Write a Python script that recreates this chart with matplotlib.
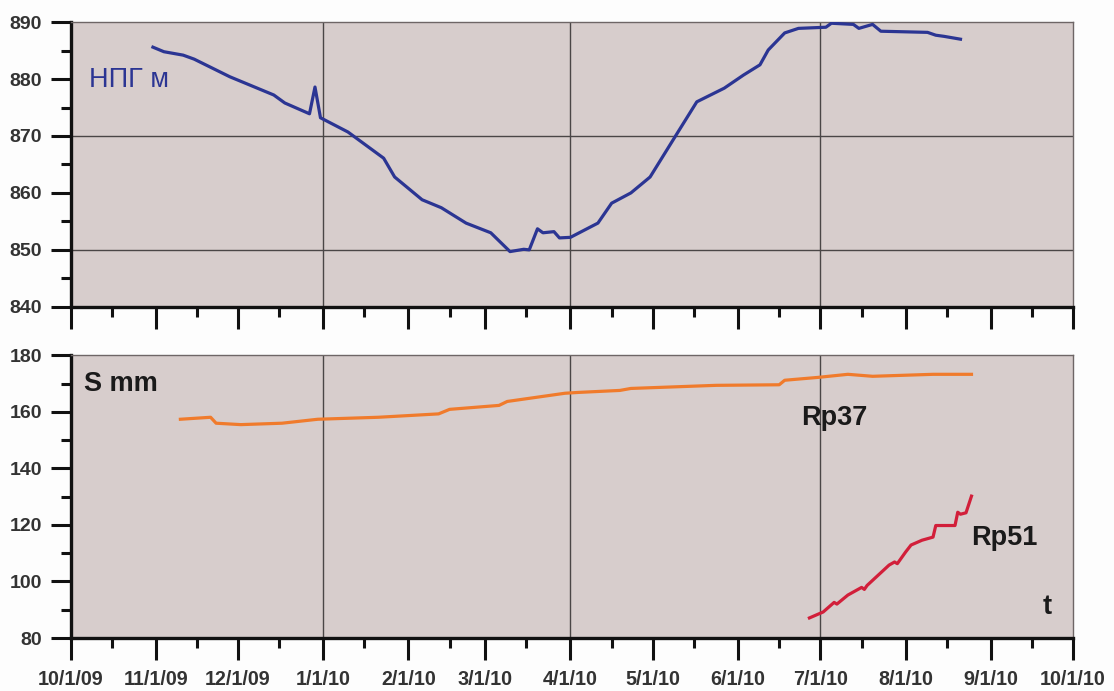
import matplotlib
matplotlib.use("Agg")
import matplotlib.pyplot as plt
import matplotlib.dates as mdates
import pandas as pd

plt.rcParams['font.family'] = ['Liberation Sans', 'DejaVu Sans']

# Groundwater level (НПГ, m)
level_dates = ["2009-10-31", "2009-11-04", "2009-11-11", "2009-11-15", "2009-11-28",
               "2009-12-14", "2009-12-18", "2009-12-27", "2009-12-29", "2009-12-31",
               "2010-01-10", "2010-01-23", "2010-01-27", "2010-02-06", "2010-02-13",
               "2010-02-22", "2010-03-03", "2010-03-10", "2010-03-15", "2010-03-17",
               "2010-03-20", "2010-03-22", "2010-03-26", "2010-03-28", "2010-04-01",
               "2010-04-11", "2010-04-16", "2010-04-23", "2010-04-30", "2010-05-09",
               "2010-05-17", "2010-05-27", "2010-06-03", "2010-06-09", "2010-06-12",
               "2010-06-18", "2010-06-23", "2010-07-03", "2010-07-05", "2010-07-13",
               "2010-07-15", "2010-07-20", "2010-07-23", "2010-08-09", "2010-08-12",
               "2010-08-15", "2010-08-21"]
level_vals = [885.6, 884.8, 884.2, 883.5, 880.4,
              877.2, 875.8, 873.9, 878.6, 873.2,
              870.7, 866.1, 862.8, 858.8, 857.4,
              854.7, 853.0, 849.7, 850.1, 850.0,
              853.7, 853.0, 853.2, 852.1, 852.2,
              854.7, 858.2, 860.0, 862.8, 869.8,
              876.0, 878.4, 880.7, 882.5, 885.1,
              888.1, 888.9, 889.1, 889.8, 889.6,
              888.9, 889.6, 888.4, 888.2, 887.7,
              887.5, 887.0]

# Settlement at benchmark Rp37 (mm)
rp37_dates = ["2009-11-10", "2009-11-21", "2009-11-23", "2009-12-02", "2009-12-17",
              "2009-12-30", "2010-01-21", "2010-02-12", "2010-02-16", "2010-03-06",
              "2010-03-09", "2010-03-30", "2010-04-04", "2010-04-19", "2010-04-23",
              "2010-05-24", "2010-06-16", "2010-06-18", "2010-06-30", "2010-07-11",
              "2010-07-20", "2010-08-11", "2010-08-25"]
rp37_vals = [157.4, 158.1, 156.0, 155.5, 156.0,
             157.4, 158.1, 159.3, 160.9, 162.3,
             163.7, 166.6, 166.9, 167.6, 168.3,
             169.4, 169.6, 171.2, 172.2, 173.3,
             172.6, 173.3, 173.3]

# Settlement at benchmark Rp51 (mm)
rp51_dates = ["2010-06-27", "2010-07-02", "2010-07-06", "2010-07-07", "2010-07-11",
              "2010-07-16", "2010-07-17", "2010-07-18", "2010-07-26", "2010-07-28",
              "2010-07-29", "2010-08-01", "2010-08-03", "2010-08-07", "2010-08-11",
              "2010-08-12", "2010-08-19", "2010-08-20", "2010-08-21", "2010-08-23",
              "2010-08-25"]
rp51_vals = [87.1, 89.2, 92.6, 92.0, 95.2,
             97.9, 97.2, 98.6, 105.8, 106.9,
             106.3, 110.4, 112.9, 114.6, 115.7,
             119.8, 119.8, 124.5, 123.8, 124.3,
             130.2]

x_start, x_end = pd.Timestamp("2009-10-01"), pd.Timestamp("2010-10-01")
grid_dates = ["2010-01-01", "2010-04-01", "2010-07-01"]

bg = "#d7cdcc"
blue = "#2b3593"
orange = "#f07b2c"
red = "#d21f3a"
tick_col = "#333333"
ink = "#1a1a1a"

fig = plt.figure(figsize=(11.14, 6.91), dpi=100, facecolor="#fdfdfd")
ax1 = fig.add_axes([0.0633, 0.556, 0.900, 0.412])
ax2 = fig.add_axes([0.0633, 0.0767, 0.900, 0.409])


def month_label(v, pos):
    d = mdates.num2date(v)
    return f"{d.month}/1/{d.year % 100:02d}"


def style(ax, ymin, ymax, major, minor, hgrid):
    ax.set_facecolor(bg)
    ax.set_xlim(x_start, x_end)
    ax.set_ylim(ymin, ymax)
    ax.xaxis.set_major_locator(mdates.MonthLocator())
    ax.xaxis.set_minor_locator(mdates.MonthLocator(bymonthday=16))
    ax.xaxis.set_major_formatter(plt.FuncFormatter(month_label))
    ax.yaxis.set_major_locator(plt.MultipleLocator(major))
    ax.yaxis.set_minor_locator(plt.MultipleLocator(minor))
    ax.tick_params(axis="x", which="major", length=16, width=2.2, color="#111111",
                   labelsize=14.2, labelcolor=tick_col, pad=7)
    ax.tick_params(axis="x", which="minor", length=7.5, width=2.2, color="#111111")
    ax.tick_params(axis="y", which="major", length=14.5, width=2.2, color="#111111",
                   labelsize=14, labelcolor=tick_col, pad=6)
    ax.tick_params(axis="y", which="minor", length=7, width=2.2, color="#111111")
    for lab in ax.get_xticklabels() + ax.get_yticklabels():
        lab.set_fontweight("bold")
    for s in ("left", "bottom"):
        ax.spines[s].set_linewidth(2.4)
        ax.spines[s].set_color("#111111")
    for s in ("top", "right"):
        ax.spines[s].set_linewidth(1.0)
        ax.spines[s].set_color("#6e6666")
    for d in grid_dates:
        ax.axvline(pd.Timestamp(d), color="#4a4646", lw=1.0, zorder=1)
    for h in hgrid:
        ax.axhline(h, color="#4a4646", lw=1.0, zorder=1)


style(ax1, 840, 890, 10, 5, [850, 870])
style(ax2, 80, 180, 20, 10, [])
ax1.tick_params(axis="x", labelbottom=False)

ax1.plot(pd.to_datetime(level_dates), level_vals, color=blue, lw=2.3, zorder=3)
ax2.plot(pd.to_datetime(rp37_dates), rp37_vals, color=orange, lw=2.3, zorder=3)
ax2.plot(pd.to_datetime(rp51_dates), rp51_vals, color=red, lw=2.3, zorder=3)

ax1.text(0.0185, 0.796, "НПГ м", transform=ax1.transAxes, color=blue,
         fontsize=19.5, va="center", ha="left")
ax2.text(0.0135, 0.897, "S mm", transform=ax2.transAxes, color=ink,
         fontsize=19.5, fontweight="bold", va="center", ha="left")
ax2.text(pd.Timestamp("2010-06-24"), 157.7, "Rp37", color=ink,
         fontsize=19.5, fontweight="bold", va="center", ha="left")
ax2.text(pd.Timestamp("2010-08-25"), 115.3, "Rp51", color=ink,
         fontsize=19.5, fontweight="bold", va="center", ha="left")
ax2.text(pd.Timestamp("2010-09-20"), 91, "t", color=ink,
         fontsize=19.5, fontweight="bold", va="center", ha="left")

fig.savefig("out.png", dpi=100, facecolor=fig.get_facecolor())
